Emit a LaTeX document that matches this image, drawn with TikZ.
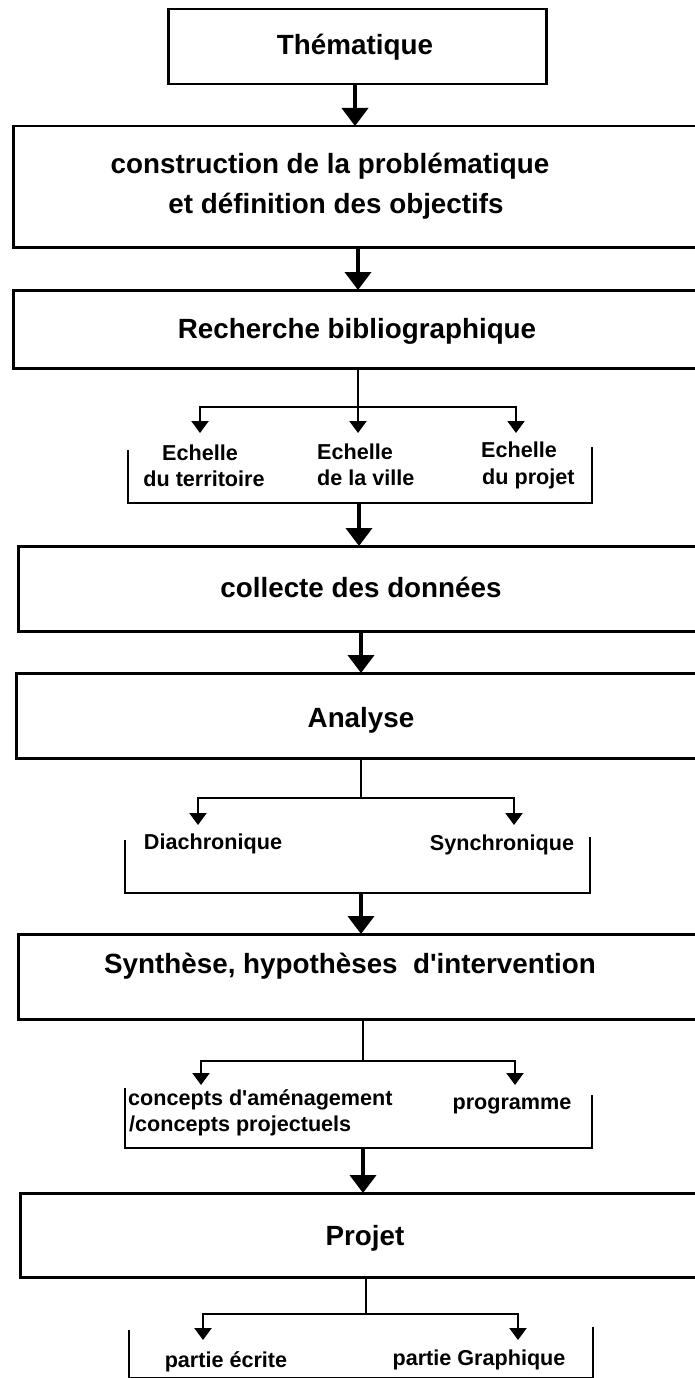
\documentclass[tikz,border=0pt]{standalone}
\usepackage{fontspec}
\setmainfont{Liberation Sans}[Ligatures=TeXOff]
\usetikzlibrary{arrows.meta}
\begin{document}
\begin{tikzpicture}[x=1pt,y=1pt,
  bigbox/.style={draw, line width=2.5pt, rectangle, inner sep=0pt, anchor=north west},
  bigtxt/.style={font=\fontsize{27.8}{31}\selectfont\bfseries, inner sep=0pt, anchor=base},
  smalltxt/.style={font=\fontsize{21.6}{24}\selectfont\bfseries, inner sep=0pt, anchor=base},
  mainarrow/.style={line width=4pt, -{Triangle[width=26pt,length=18pt]}, shorten >=-1pt},
  branchline/.style={line width=2.3pt},
  brancharrow/.style={line width=2.3pt, -{Triangle[width=17pt,length=12pt]}},
  bracketline/.style={line width=2.5pt, line join=miter}]
\useasboundingbox (0,0) rectangle (695,-1378);
\fill[white] (0,0) rectangle (695,-1378);

% boxes
\node[bigbox, minimum width=378pt, minimum height=75pt] (b1) at (167,-8) {};
\node[bigbox, minimum width=693pt, minimum height=121pt] (b2) at (12,-125) {};
\node[bigbox, minimum width=693pt, minimum height=78pt] (b3) at (12,-289) {};
\node[bigbox, minimum width=688pt, minimum height=85pt] (b4) at (17,-545) {};
\node[bigbox, minimum width=690pt, minimum height=85pt] (b5) at (15,-672) {};
\node[bigbox, minimum width=688pt, minimum height=85pt] (b6) at (17,-933) {};
\node[bigbox, minimum width=686pt, minimum height=84pt] (b7) at (19,-1192) {};

% box texts
\node[bigtxt] (t1) at (355,-55) {Thématique};
\node[bigtxt] (t2a) at (330,-173) {construction de la problématique};
\node[bigtxt] (t2b) at (336,-213) {et définition des objectifs};
\node[bigtxt] (t3) at (357,-338) {Recherche bibliographique};
\node[bigtxt] (t4) at (361,-597) {collecte des données};
\node[bigtxt] (t5) at (361,-727) {Analyse};
\node[bigtxt] (t6) at (350,-973) {Synthèse, hypothèses\ \ d'intervention};
\node[bigtxt] (t7) at (365,-1245) {Projet};

% small texts
\node[smalltxt] (e1a) at (200,-460) {Echelle};
\node[smalltxt] (e1b) at (204,-486) {du territoire};
\node[smalltxt, anchor=base west] (e2a) at (317,-459) {Echelle};
\node[smalltxt, anchor=base west] (e2b) at (317,-485) {de la ville};
\node[smalltxt, anchor=base west] (e3a) at (481,-457) {Echelle};
\node[smalltxt, anchor=base west] (e3b) at (482,-484) {du projet};
\node[smalltxt] (d1) at (213,-849) {Diachronique};
\node[smalltxt] (d2) at (502,-850) {Synchronique};
\node[smalltxt, anchor=base west] (c1a) at (128,-1105) {concepts d'aménagement};
\node[smalltxt, anchor=base west] (c1b) at (129,-1131) {/concepts projectuels};
\node[smalltxt] (c2) at (512,-1109) {programme};
\node[smalltxt] (p1) at (226,-1367) {partie écrite};
\node[smalltxt] (p2) at (479,-1365) {partie Graphique};

% brackets
\coordinate (A1) at (128,-450); \coordinate (A2) at (128,-503);
\coordinate (A3) at (592,-503); \coordinate (A4) at (592,-447);
\draw[bracketline] (A1) -- (A2) -- (A3) -- (A4);
\coordinate (B1) at (125,-840); \coordinate (B2) at (125,-893);
\coordinate (B3) at (590,-893); \coordinate (B4) at (590,-837);
\draw[bracketline] (B1) -- (B2) -- (B3) -- (B4);
\coordinate (C1) at (125,-1088); \coordinate (C2) at (125,-1148);
\coordinate (C3) at (592,-1148); \coordinate (C4) at (592,-1095);
\draw[bracketline] (C1) -- (C2) -- (C3) -- (C4);
\coordinate (D1) at (129,-1330); \coordinate (D2) at (129,-1378.5);
\coordinate (D3) at (593,-1378.5); \coordinate (D4) at (593,-1327);
\draw[bracketline] (D1) -- (D2) -- (D3) -- (D4);

% main arrows
\coordinate (m1) at (355,-83);
\draw[mainarrow] (m1) -- (m1 |- b2.north);
\coordinate (m2) at (358,-246);
\draw[mainarrow] (m2) -- (m2 |- b3.north);
\coordinate (m3) at (359,-503);
\draw[mainarrow] (m3) -- (m3 |- b4.north);
\coordinate (m4) at (361,-630);
\draw[mainarrow] (m4) -- (m4 |- b5.north);
\coordinate (m5) at (361,-893);
\draw[mainarrow] (m5) -- (m5 |- b6.north);
\coordinate (m6) at (363,-1148);
\draw[mainarrow] (m6) -- (m6 |- b7.north);

% branches from b3
\coordinate (j1) at (358,-407);
\coordinate (a1) at (200,-433); \coordinate (a2) at (358,-433); \coordinate (a3) at (516,-433);
\draw[branchline] (j1 |- b3.south) -- (j1);
\draw[brancharrow] (j1) -| (a1);
\draw[brancharrow] (j1) -- (a2);
\draw[brancharrow] (j1) -| (a3);

% branches from b5
\coordinate (j2) at (361,-798);
\coordinate (a4) at (198,-825); \coordinate (a5) at (514,-825);
\draw[branchline] (j2 |- b5.south) -- (j2);
\draw[brancharrow] (j2) -| (a4);
\draw[brancharrow] (j2) -| (a5);

% branches from b6
\coordinate (j3) at (363,-1061);
\coordinate (a6) at (201,-1085); \coordinate (a7) at (515,-1085);
\draw[branchline] (j3 |- b6.south) -- (j3);
\draw[brancharrow] (j3) -| (a6);
\draw[brancharrow] (j3) -| (a7);

% branches from b7
\coordinate (j4) at (366,-1314);
\coordinate (a8) at (203,-1340); \coordinate (a9) at (518,-1340);
\draw[branchline] (j4 |- b7.south) -- (j4);
\draw[brancharrow] (j4) -| (a8);
\draw[brancharrow] (j4) -| (a9);
\end{tikzpicture}
\end{document}
